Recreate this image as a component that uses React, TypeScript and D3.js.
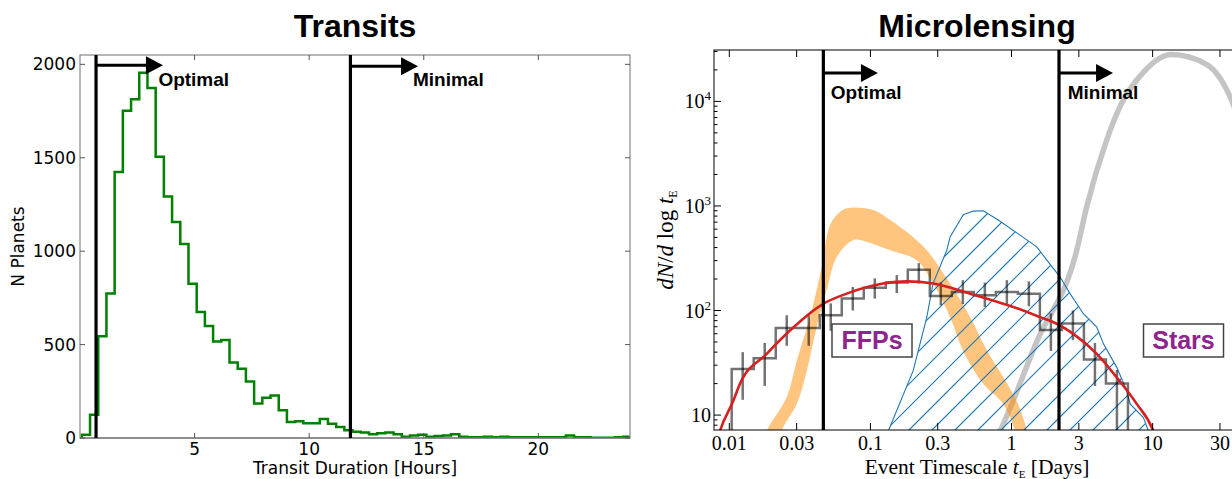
import React from 'react';
import * as d3 from 'd3';

const W = 1232;
const H = 479;

// ---------- Left panel (Transits) data ----------
const transitBinStart = 0.08;
const transitBinWidth = 0.358;
const transitCounts = [
  18, 125, 545, 773, 1424, 1751, 1813, 1955, 1874, 1505, 1293, 1156, 1038,
  825, 674, 600, 516, 524, 404, 370, 302, 184, 216, 228, 148, 86, 90, 79, 79,
  102, 76, 59, 41, 34, 29, 20, 25, 29, 20, 7, 14, 18, 7, 11, 14, 20, 7, 4, 4,
  7, 4, 7, 4, 4, 4, 4, 4, 4, 4, 14, 4, 4, 2, 2, 2, 4, 7,
];
const transitXTicks = [5, 10, 15, 20];
const transitYTicks = [0, 500, 1000, 1500, 2000];
const transitOptimal = 0.7;
const transitMinimal = 11.8;

// ---------- Right panel (Microlensing) data ----------
const mlXTicks = [0.01, 0.03, 0.1, 0.3, 1, 3, 10, 30];
const mlXTickLabels = ['0.01', '0.03', '0.1', '0.3', '1', '3', '10', '30'];
const mlYTicks = [10, 100, 1000, 10000];
const mlYTickExp = [1, 2, 3, 4];
const mlOptimal = 0.0464;
const mlMinimal = 2.17;

// observed histogram (log bins)
const histLogStart = -1.983;
const histLogWidth = 0.156;
const histValues = [27.6, 34.9, 68, 68, 90, 130, 165, 185, 245, 138, 150, 140, 150, 145, 65, 75, 34, 20];
const histErrLo = [14, 19, 46, 46, 64, 100, 130, 147, 181, 112, 115, 108, 115, 110, 41, 52, 19, 7];
const histErrHi = [40, 49, 90, 90, 117, 168, 203, 218, 284, 186, 195, 185, 195, 190, 94, 100, 49, 27];

// red model curve
const redX = [0.0078, 0.00859, 0.01067, 0.0119, 0.0184, 0.0269, 0.0463, 0.0679, 0.123, 0.181, 0.279, 0.508, 1.03, 1.59, 2.09, 2.74, 4.02, 5.57, 7.71, 10.1, 11];
const redY = [4.5, 7.07, 13.7, 19.9, 38.5, 64.4, 116, 145, 181, 190, 181, 145, 108, 86.5, 74.7, 59.8, 38.5, 22.9, 12.8, 7.07, 5];

// stars (gray) curve
const starX = [0.7, 0.83, 1.52, 2.9, 3.41, 4.73, 5.88, 8.55, 13.6, 24.2, 36.6, 45.3];
const starY = [4.5, 7.06, 51.6, 378, 982, 4290, 8950, 18800, 28000, 22500, 9930, 4290];

// FFP band (orange), upper and lower edges
const ffpUpX = [0.0165, 0.0184, 0.0255, 0.0301, 0.0373, 0.0452, 0.0518, 0.061, 0.0717, 0.105, 0.138, 0.2, 0.251, 0.367, 0.508, 0.67, 0.929, 1.11, 1.29, 1.4];
const ffpUpY = [4.5, 7.07, 14.8, 33.2, 86.5, 261, 656, 880, 961, 914, 733, 506, 377, 181, 86.5, 41.4, 20.0, 12.8, 7.07, 4.5];
const ffpLoX = [0.022, 0.0235, 0.0301, 0.0354, 0.0416, 0.049, 0.0577, 0.0757, 0.0942, 0.138, 0.213, 0.278, 0.367, 0.453, 0.628, 0.871, 1.06, 1.15];
const ffpLoY = [4.5, 7.07, 12.8, 26.6, 69.3, 156, 325, 471, 453, 377, 303, 181, 86.5, 41.4, 20.0, 12.8, 7.07, 4.5];

// bound planets (blue hatched region) outline
const boundX = [0.12, 0.134, 0.201, 0.251, 0.278, 0.348, 0.367, 0.455, 0.536, 0.631, 0.805, 1.09, 1.51, 1.78, 2.21, 2.6, 3.23, 4.02, 4.48, 5.57, 6.55, 6.92, 8.6, 9.33, 10];
const boundY = [4.5, 7.07, 26.6, 86.5, 182, 377, 506, 824, 893, 899, 733, 553, 406, 303, 209, 145, 93.1, 69.3, 48.0, 28.6, 17.1, 12.8, 9.48, 7.07, 4.5];

const fontSans = "'Liberation Sans', Arial, Helvetica, sans-serif";
const fontDV = "'DejaVu Sans', sans-serif";
const fontSerif = "'Liberation Serif', 'Times New Roman', serif";

const L = { x0: 80, x1: 630, y0: 55, y1: 438 };
const R = { x0: 714, x1: 1240, y0: 50, y1: 430 };
const HATCH_STEP = 23;
const BLUE = 'rgb(31,119,180)';

function Arrow({ x1, x2, y }: { x1: number; x2: number; y: number }) {
  const head = 17;
  return (
    <g>
      <line x1={x1} x2={x2 - head + 1} y1={y} y2={y} stroke="#000" strokeWidth={3} />
      <path d={`M${x2 - head},${y - 9}L${x2},${y}L${x2 - head},${y + 9}Z`} fill="#000" />
    </g>
  );
}

export default function App() {
  const xL = d3.scaleLinear().domain([0, 24]).range([L.x0, L.x1]);
  const yL = d3.scaleLinear().domain([0, 2050]).range([L.y1, L.y0]);

  const xR = d3.scaleLog().domain([0.00779, 41.6]).range([R.x0, R.x1]);
  const yR = d3.scaleLog().domain([7.2, 31000]).range([R.y1, R.y0]);

  // left histogram step path
  const stepPts: [number, number][] = [];
  transitCounts.forEach((c, i) => {
    const e0 = transitBinStart + i * transitBinWidth;
    const e1 = e0 + transitBinWidth;
    if (i === 0) stepPts.push([xL(e0), yL(0)]);
    stepPts.push([xL(e0), yL(c)]);
    stepPts.push([xL(e1), yL(c)]);
  });
  const stepPath = d3.line()(stepPts) || '';

  // right histogram
  const hPts: [number, number][] = [];
  const edge = (i: number) => Math.pow(10, histLogStart + i * histLogWidth);
  histValues.forEach((v, i) => {
    if (i === 0) hPts.push([xR(edge(0)), R.y1 + 20]);
    hPts.push([xR(edge(i)), yR(v)]);
    hPts.push([xR(edge(i + 1)), yR(v)]);
  });
  hPts.push([xR(edge(histValues.length)), R.y1 + 20]);
  const hPath = d3.line()(hPts) || '';

  const smooth = d3.line<[number, number]>().curve(d3.curveMonotoneX);
  const redPath = smooth(redX.map((x, i) => [xR(x), yR(redY[i])])) || '';
  const starPath = smooth(starX.map((x, i) => [xR(x), yR(starY[i])])) || '';

  const ffpPoly: [number, number][] = [
    ...ffpUpX.map((x, i) => [xR(x), yR(ffpUpY[i])] as [number, number]),
    ...ffpLoX.map((x, i) => [xR(x), yR(ffpLoY[i])] as [number, number]).reverse(),
  ];
  const ffpPath = d3.line<[number, number]>().curve(d3.curveCatmullRomClosed.alpha(0.5))(ffpPoly) || '';

  const boundPts = boundX.map((x, i) => [xR(x), yR(boundY[i])] as [number, number]);
  const boundPath = (d3.line()(boundPts) || '') + 'Z';

  // hatch lines ("/" at 45 degrees)
  const hatchLines: number[] = d3.range(R.x0 + R.y0, R.x1 + R.y1 + 40, HATCH_STEP);
  const hatchPath = hatchLines
    .map((c) => `M${c - R.y1 - 10},${R.y1 + 10}L${c - R.y0 + 10},${R.y0 - 10}`)
    .join('');

  const minorY: number[] = [];
  for (let k = 0; k <= 4; k++) {
    for (let m = 2; m <= 9; m++) {
      const v = m * Math.pow(10, k);
      if (v > 7.2 && v < 31000) minorY.push(v);
    }
  }

  const tickLen = 5;
  const gray = '#888';

  return (
    <svg
      width={W}
      height={H}
      style={{ position: 'absolute', left: 0, top: 0, background: '#fff' }}
      xmlns="http://www.w3.org/2000/svg"
    >
      <defs>
        <clipPath id="clipL">
          <rect x={L.x0} y={L.y0} width={L.x1 - L.x0} height={L.y1 - L.y0} />
        </clipPath>
        <clipPath id="clipR">
          <rect x={R.x0} y={R.y0} width={R.x1 - R.x0} height={R.y1 - R.y0} />
        </clipPath>
        <clipPath id="clipBound">
          <path d={boundPath} />
        </clipPath>
      </defs>
      <rect x={0} y={0} width={W} height={H} fill="#fff" />

      {/* ================= LEFT PANEL ================= */}
      <text x={355} y={37} textAnchor="middle" fontFamily={fontSans} fontWeight="bold" fontSize={32}>
        Transits
      </text>
      <g clipPath="url(#clipL)">
        <path d={stepPath} fill="none" stroke="#008000" strokeWidth={2.5} strokeLinejoin="miter" />
      </g>
      {/* frame */}
      <rect x={L.x0} y={L.y0} width={L.x1 - L.x0} height={L.y1 - L.y0} fill="none" stroke={gray} strokeWidth={1.2} />
      <line x1={L.x0} x2={L.x1} y1={L.y1} y2={L.y1} stroke="#666" strokeWidth={1.2} />
      {/* ticks */}
      {transitYTicks.map((t) => (
        <g key={'ly' + t}>
          <line x1={L.x0} x2={L.x0 + tickLen} y1={yL(t)} y2={yL(t)} stroke="#555" />
          <line x1={L.x1} x2={L.x1 - tickLen} y1={yL(t)} y2={yL(t)} stroke="#555" />
          <text x={L.x0 - 4} y={yL(t)} dy="0.36em" textAnchor="end" fontFamily={fontDV} fontSize={17}>
            {t}
          </text>
        </g>
      ))}
      {transitXTicks.map((t) => (
        <g key={'lx' + t}>
          <line x1={xL(t)} x2={xL(t)} y1={L.y1} y2={L.y1 - tickLen} stroke="#555" />
          <line x1={xL(t)} x2={xL(t)} y1={L.y0} y2={L.y0 + tickLen} stroke="#555" />
          <text x={xL(t)} y={455} textAnchor="middle" fontFamily={fontDV} fontSize={17}>
            {t}
          </text>
        </g>
      ))}
      <text x={(L.x0 + L.x1) / 2} y={474} textAnchor="middle" fontFamily={fontDV} fontSize={17}>
        Transit Duration [Hours]
      </text>
      <text
        transform={`translate(24,${(L.y0 + L.y1) / 2}) rotate(-90)`}
        textAnchor="middle"
        fontFamily={fontDV}
        fontSize={17}
      >
        N Planets
      </text>
      {/* thresholds */}
      {[transitOptimal, transitMinimal].map((v) => (
        <line key={'lv' + v} x1={xL(v)} x2={xL(v)} y1={L.y0} y2={L.y1} stroke="#000" strokeWidth={3.2} />
      ))}
      <Arrow x1={xL(transitOptimal)} x2={xL(3.62)} y={yL(1995)} />
      <Arrow x1={xL(transitMinimal)} x2={xL(14.75)} y={yL(1990)} />
      <text x={xL(3.42)} y={86} fontFamily={fontSans} fontWeight="bold" fontSize={19}>
        Optimal
      </text>
      <text x={xL(14.53)} y={86} fontFamily={fontSans} fontWeight="bold" fontSize={19}>
        Minimal
      </text>

      {/* ================= RIGHT PANEL ================= */}
      <text x={977} y={37} textAnchor="middle" fontFamily={fontSans} fontWeight="bold" fontSize={32}>
        Microlensing
      </text>
      <g clipPath="url(#clipR)">
        <path d={starPath} fill="none" stroke="#c4c4c4" strokeWidth={5.5} />
        <path d={ffpPath} fill="#ff8c00" fillOpacity={0.5} stroke="none" />
        <g clipPath="url(#clipBound)">
          <path d={hatchPath} fill="none" stroke={BLUE} strokeWidth={1.2} />
        </g>
        <path d={boundPath} fill="none" stroke={BLUE} strokeWidth={1.1} />
        <path d={hPath} fill="none" stroke="#000" strokeOpacity={0.55} strokeWidth={2.5} />
        {histValues.map((v, i) => {
          const xc = xR(Math.pow(10, histLogStart + (i + 0.5) * histLogWidth));
          return (
            <line
              key={'eb' + i}
              x1={xc}
              x2={xc}
              y1={yR(histErrLo[i])}
              y2={yR(histErrHi[i])}
              stroke="#000"
              strokeOpacity={0.55}
              strokeWidth={2.5}
            />
          );
        })}
        <path d={redPath} fill="none" stroke="#d62020" strokeWidth={2.6} />
      </g>
      {/* frame */}
      <rect x={R.x0} y={R.y0} width={R.x1 - R.x0} height={R.y1 - R.y0} fill="none" stroke="#000" strokeWidth={1} />
      {mlXTicks.map((t, i) => (
        <g key={'rx' + t}>
          <line x1={xR(t)} x2={xR(t)} y1={R.y1} y2={R.y1 - 7} stroke="#000" />
          <line x1={xR(t)} x2={xR(t)} y1={R.y0} y2={R.y0 + 7} stroke="#000" />
          <text x={xR(t)} y={449.5} textAnchor="middle" fontFamily={fontSerif} fontSize={20}>
            {mlXTickLabels[i]}
          </text>
        </g>
      ))}
      {mlYTicks.map((t, i) => (
        <g key={'ry' + t}>
          <line x1={R.x0} x2={R.x0 + 7} y1={yR(t)} y2={yR(t)} stroke="#000" />
          <text x={711} y={yR(t)} dy="0.35em" textAnchor="end" fontFamily={fontSerif} fontSize={20}>
            <tspan>10</tspan>
            {mlYTickExp[i] > 1 ? (
              <tspan dy={-8} fontSize={13}>
                {mlYTickExp[i]}
              </tspan>
            ) : null}
          </text>
        </g>
      ))}
      {minorY.map((t) => (
        <line key={'rm' + t} x1={R.x0} x2={R.x0 + 3.5} y1={yR(t)} y2={yR(t)} stroke="#000" />
      ))}
      <text x={(R.x0 + R.x1) / 2} y={474} textAnchor="middle" fontFamily={fontSerif} fontSize={21.5}>
        Event Timescale <tspan fontStyle="italic">t</tspan>
        <tspan fontSize={11} dy={4}>E</tspan>
        <tspan dy={-4}> [Days]</tspan>
      </text>
      <text
        transform={`translate(673,${(R.y0 + R.y1) / 2}) rotate(-90)`}
        textAnchor="middle"
        fontFamily={fontSerif}
        fontSize={23}
      >
        <tspan fontStyle="italic">dN</tspan>
        <tspan>/</tspan>
        <tspan fontStyle="italic">d</tspan>
        <tspan> log </tspan>
        <tspan fontStyle="italic">t</tspan>
        <tspan fontSize={12} dy={4}>E</tspan>
      </text>
      {[mlOptimal, mlMinimal].map((v) => (
        <line key={'rv' + v} x1={xR(v)} x2={xR(v)} y1={R.y0} y2={R.y1} stroke="#000" strokeWidth={3.2} />
      ))}
      <Arrow x1={xR(mlOptimal)} x2={xR(0.113)} y={yR(18700)} />
      <Arrow x1={xR(mlMinimal)} x2={xR(5.24)} y={yR(18700)} />
      <text x={xR(0.0524)} y={99} fontFamily={fontSans} fontWeight="bold" fontSize={19}>
        Optimal
      </text>
      <text x={xR(2.5)} y={99} fontFamily={fontSans} fontWeight="bold" fontSize={19}>
        Minimal
      </text>
      {/* label boxes */}
      <rect x={832} y={324} width={80} height={33} fill="#fff" stroke="#444" strokeWidth={1.5} />
      <text x={872} y={349} textAnchor="middle" fontFamily={fontSans} fontWeight="bold" fontSize={25} fill="#8e248e">
        FFPs
      </text>
      <rect x={1143.5} y={324} width={80} height={33} fill="#fff" stroke="#444" strokeWidth={1.5} />
      <text x={1183.5} y={349} textAnchor="middle" fontFamily={fontSans} fontWeight="bold" fontSize={25} fill="#8e248e">
        Stars
      </text>
    </svg>
  );
}
